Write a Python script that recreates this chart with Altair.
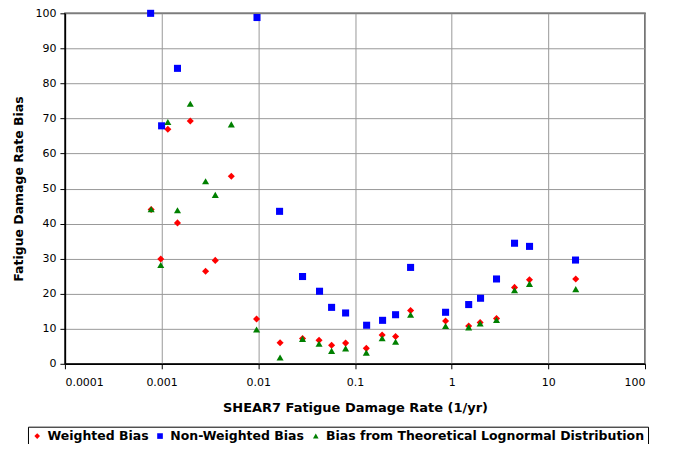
import altair as alt
import pandas as pd

# Weighted Bias (red diamonds)
w_x = [0.00078, 0.00098, 0.00116, 0.00146, 0.00198, 0.00285, 0.00359, 0.00526,
       0.0096, 0.0168, 0.0287, 0.0425, 0.0573, 0.080, 0.131, 0.191, 0.263, 0.376,
       0.865, 1.50, 1.97, 2.91, 4.47, 6.38, 19.2]
w_y = [44.0, 29.9, 66.9, 40.2, 69.3, 26.4, 29.5, 53.5,
       12.8, 6.0, 7.2, 6.7, 5.3, 5.9, 4.4, 8.2, 7.8, 15.2,
       12.2, 10.8, 11.8, 12.9, 21.8, 24.0, 24.2]

# Non-Weighted Bias (blue squares)
n_x = [0.00077, 0.00100, 0.00146, 0.0097, 0.0166, 0.0287, 0.043, 0.0573, 0.080,
       0.132, 0.193, 0.263, 0.376, 0.865, 1.50, 1.99, 2.91, 4.47, 6.39, 19.1]
n_y = [100.0, 67.9, 84.3, 98.8, 43.5, 24.9, 20.7, 16.1, 14.5,
       11.0, 12.4, 14.0, 27.5, 14.7, 16.9, 18.7, 24.2, 34.4, 33.5, 29.6]

# Bias from Theoretical Lognormal Distribution (green triangles)
g_x = [0.00078, 0.00098, 0.00116, 0.00146, 0.00198, 0.00285, 0.00359, 0.00526,
       0.0096, 0.0168, 0.0287, 0.0425, 0.0573, 0.080, 0.131, 0.191, 0.263, 0.376,
       0.865, 1.50, 1.97, 2.91, 4.47, 6.38, 19.2]
g_y = [44.1, 28.2, 69.0, 43.8, 74.2, 52.1, 48.2, 68.3,
       9.8, 1.8, 7.1, 5.7, 3.7, 4.4, 3.2, 7.3, 6.3, 14.0,
       10.8, 10.4, 11.5, 12.5, 21.0, 22.8, 21.3]

series_names = ["Weighted Bias", "Non-Weighted Bias",
                "Bias from Theoretical Lognormal Distribution"]
series_colors = ["#FF0000", "#0000FF", "#008000"]
series_shapes = ["diamond", "square", "triangle-up"]
x_ticks = [0.0001, 0.001, 0.01, 0.1, 1, 10, 100]
y_ticks = list(range(0, 101, 10))

rows = []
for name, xs, ys in zip(series_names, [w_x, n_x, g_x], [w_y, n_y, g_y]):
    for xv, yv in zip(xs, ys):
        rows.append({"series": name, "x": xv, "y": yv})
df = pd.DataFrame(rows)

FONT = "DejaVu Sans"

chart = alt.Chart(df).mark_point(filled=True, opacity=1, size=50).encode(
    x=alt.X("x:Q",
            scale=alt.Scale(type="log", domain=[0.0001, 100], nice=False),
            axis=alt.Axis(values=x_ticks, format="~g",
                          title="SHEAR7 Fatigue Damage Rate (1/yr)",
                          titleFontSize=13,
                          labelPadding=8, titlePadding=14)),
    y=alt.Y("y:Q",
            scale=alt.Scale(domain=[0, 100], nice=False),
            axis=alt.Axis(values=y_ticks, title="Fatigue Damage Rate Bias",
                          titleFontSize=12.5,
                          labelPadding=4, titlePadding=9)),
    color=alt.Color("series:N",
                    scale=alt.Scale(domain=series_names, range=series_colors),
                    legend=alt.Legend(title=None, orient="none",
                                      direction="horizontal",
                                      legendX=-37, legendY=414,
                                      strokeColor="black", fillColor="white",
                                      padding=3, columnPadding=5,
                                      labelFont=FONT, labelFontWeight="bold",
                                      labelFontSize=12.5, labelColor="black",
                                      labelLimit=600,
                                      symbolSize=32, labelOffset=4)),
    shape=alt.Shape("series:N",
                    scale=alt.Scale(domain=series_names, range=series_shapes)),
).properties(
    width=581, height=351,
    autosize=alt.AutoSizeParams(type="none"),
    padding={"left": 57, "top": 5, "right": 20, "bottom": 80},
).configure_view(
    stroke="#404040", strokeWidth=1.5,
).configure_axis(
    labelFont=FONT, labelFontSize=11, labelColor="black",
    titleFont=FONT, titleFontWeight="bold", titleColor="black",
    domainColor="black", domainWidth=1.5,
    tickColor="black", tickSize=5,
    gridColor="#999999", gridWidth=1,
)

chart.save("out.html", embed_options={"renderer": "svg", "actions": False})
